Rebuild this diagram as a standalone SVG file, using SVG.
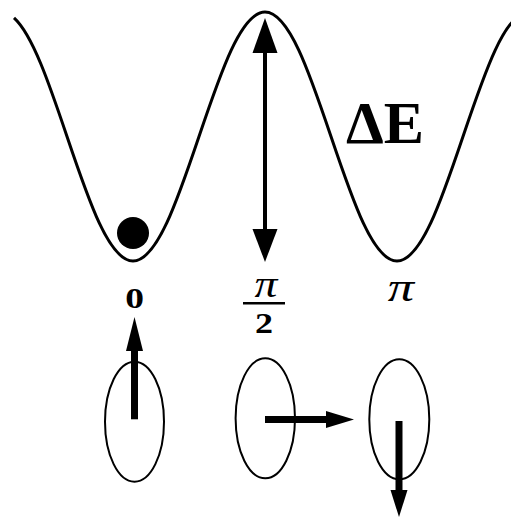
<svg xmlns="http://www.w3.org/2000/svg" width="511" height="518" viewBox="0 0 511 518">
<defs>
<style>
.curve{fill:none;stroke:#000;stroke-width:3}
.ell{fill:none;stroke:#000;stroke-width:2}
.shaft{stroke:#000;fill:none}
.head{fill:#000}
</style>
</defs>
<rect width="511" height="518" fill="#fff"/>
<g id="potential">
<path class="curve" d="M14.01,17.93 C32.58,34.69 49.48,84.58 67,136.5 C88.525,200.28 109.114,261 133,261 C156.886,261 177.475,200.28 199,136.5 C220.525,72.72 241.114,12 265,12 C288.886,12 309.475,72.72 331,136.5 C352.525,200.28 373.114,261 397,261 C420.886,261 441.475,200.28 463,136.5 C484.525,72.72 505.114,12 529,12"/>
</g>
<g id="ball"><circle cx="133" cy="233" r="16" fill="#000"/></g>
<g id="connectors">
<g id="barrier-arrow">
<line class="shaft" x1="265" y1="50" x2="265" y2="232" stroke-width="4"/>
<polygon class="head" points="265,18 252.5,53 277.5,53"/>
<polygon class="head" points="265,262 252.5,229 277.5,229"/>
</g>
</g>
<g id="label-dE"><text x="346" y="143" font-family="Liberation Serif, Times New Roman, serif" font-weight="bold" font-size="60" textLength="78" lengthAdjust="spacingAndGlyphs">ΔE</text></g>
<g id="label-0"><text transform="translate(134.5,308) scale(1.25,1)" font-family="Liberation Serif, Times New Roman, serif" font-weight="bold" font-size="30" text-anchor="middle">0</text></g>
<g id="label-pi2">
<text transform="translate(266,297) scale(1.2,1)" font-family="Liberation Serif, Times New Roman, serif" font-style="italic" font-size="38" text-anchor="middle">π</text>
<line x1="243" y1="303.3" x2="285" y2="303.3" stroke="#000" stroke-width="2.5"/>
<text transform="translate(264,333) scale(1.2,1)" font-family="Liberation Serif, Times New Roman, serif" font-weight="bold" font-size="30" text-anchor="middle">2</text>
</g>
<g id="label-pi"><text transform="translate(401,301) scale(1.25,1)" font-family="Liberation Serif, Times New Roman, serif" font-style="italic" font-size="42" text-anchor="middle">π</text></g>
<g id="state-0">
<ellipse class="ell" cx="134.5" cy="421.7" rx="29.5" ry="60"/>
<line class="shaft" x1="134.5" y1="419.3" x2="134.5" y2="348" stroke-width="7"/>
<polygon class="head" points="134.5,317 126,351 143,351"/>
</g>
<g id="state-pi2">
<ellipse class="ell" cx="265.3" cy="418.3" rx="29.7" ry="60"/>
<line class="shaft" x1="265" y1="419.5" x2="329" y2="419.5" stroke-width="7"/>
<polygon class="head" points="354,419.5 326,411 326,428"/>
</g>
<g id="state-pi">
<ellipse class="ell" cx="399.3" cy="419.3" rx="30" ry="60"/>
<line class="shaft" x1="399" y1="421" x2="399" y2="493" stroke-width="7"/>
<polygon class="head" points="399,517 390.5,490 407.5,490"/>
</g>
</svg>
